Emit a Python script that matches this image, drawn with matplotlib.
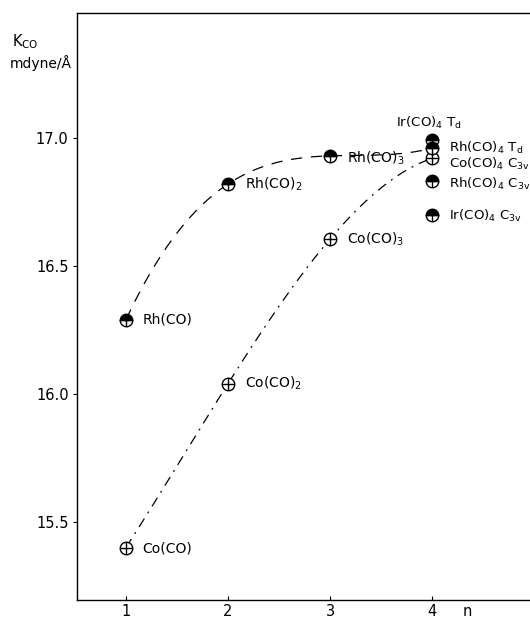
import numpy as np
import matplotlib
matplotlib.use("Agg")
import matplotlib.pyplot as plt

plt.rcParams['font.family'] = ['DejaVu Sans']
plt.rcParams['mathtext.fontset'] = 'dejavusans'

# ---- data ----
rh_n = [1, 2, 3, 4]
rh_k = [16.29, 16.82, 16.93, 16.96]
rh_labels = ["Rh(CO)", "Rh(CO)$_2$", "Rh(CO)$_3$", "Rh(CO)$_4$ T$_\\mathrm{d}$"]

co_n = [1, 2, 3, 4]
co_k = [15.40, 16.04, 16.605, 16.92]
co_labels = ["Co(CO)", "Co(CO)$_2$", "Co(CO)$_3$", "Co(CO)$_4$ C$_\\mathrm{3v}$"]

extra_n = [4, 4, 4]
extra_k = [16.99, 16.83, 16.70]
extra_labels = ["Ir(CO)$_4$ T$_\\mathrm{d}$", "Rh(CO)$_4$ C$_\\mathrm{3v}$", "Ir(CO)$_4$ C$_\\mathrm{3v}$"]

xticks = [1, 2, 3, 4]
yticks = [15.5, 16.0, 16.5, 17.0]
ytick_labels = ["15.5", "16.0", "16.5", "17.0"]

W, H = 530, 618
fig = plt.figure(figsize=(W / 100, H / 100), dpi=100)
ax = fig.add_axes([77 / W, 1 - 600 / H, (W - 77) / W, (600 - 13) / H])
ax.set_xlim(0.52, 4.96)
ax.set_ylim(15.195, 17.488)
ax.spines['right'].set_visible(False)
for s in ['left', 'bottom', 'top']:
    ax.spines[s].set_linewidth(1.0)

ax.set_xticks(xticks)
ax.set_xticklabels([str(t) for t in xticks], fontsize=10.5)
ax.set_yticks(yticks)
ax.set_yticklabels(ytick_labels, fontsize=10.5)
ax.tick_params(axis='x', direction='in', length=3, pad=3)
ax.tick_params(axis='y', direction='out', length=3, pad=3)

# smooth curves through points
def smooth(xs, ys):
    c = np.polyfit(xs, ys, 3)
    xx = np.linspace(min(xs), max(xs), 200)
    return xx, np.polyval(c, xx)

xx, yy = smooth(rh_n, rh_k)
ax.plot(xx, yy, color='black', lw=0.9, linestyle=(0, (9, 7)), zorder=1)
xx, yy = smooth(co_n, co_k)
ax.plot(xx, yy, color='black', lw=0.9, linestyle=(0, (8, 5, 1.5, 5)), zorder=1)

ms = 9
def half_marker(x, y):
    ax.plot(x, y, 'o', ms=ms, fillstyle='top', mfc='black', mfcalt='white',
            mec='black', mew=1.0, zorder=3, linestyle='none')
    ax.plot(x, y, '+', ms=ms, mec='black', mew=1.0, zorder=4, linestyle='none')

def open_marker(x, y):
    ax.plot(x, y, 'o', ms=ms, mfc='white', mec='black', mew=1.0, zorder=3, linestyle='none')
    ax.plot(x, y, '+', ms=ms, mec='black', mew=1.0, zorder=4, linestyle='none')

open_marker(co_n, co_k)
half_marker(extra_n, extra_k)
half_marker(rh_n, rh_k)

fs = 10
fs4 = 9.6
# Rh labels
rh_off = [(12, 0), (12, 0), (12, -2), (12, 0)]
rh_fs = [fs, fs, fs, fs4]
for x, y, t, o, f in zip(rh_n, rh_k, rh_labels, rh_off, rh_fs):
    ax.annotate(t, (x, y), xytext=o, textcoords='offset points', va='center', ha='left', fontsize=f)
co_off = [(12, -1), (12, 0), (12, 0), (12, -4)]
co_fs = [fs, fs, fs, fs4]
for x, y, t, o, f in zip(co_n, co_k, co_labels, co_off, co_fs):
    ax.annotate(t, (x, y), xytext=o, textcoords='offset points', va='center', ha='left', fontsize=f)
# Ir Td above marker
ax.annotate(extra_labels[0], (extra_n[0], extra_k[0]), xytext=(-2, 7), textcoords='offset points',
            va='bottom', ha='center', fontsize=fs4)
ax.annotate(extra_labels[1], (extra_n[1], extra_k[1]), xytext=(12, -2), textcoords='offset points',
            va='center', ha='left', fontsize=fs4)
ax.annotate(extra_labels[2], (extra_n[2], extra_k[2]), xytext=(12, -1), textcoords='offset points',
            va='center', ha='left', fontsize=fs4)

# axis labels
ax.annotate("n", (4.35, 15.195), xytext=(0, -3), textcoords='offset points',
            va='top', ha='center', fontsize=10.5)
fig.text(12 / W, 1 - 42 / H, "K$_\\mathrm{CO}$", fontsize=10.5, ha='left', va='center')
fig.text(10 / W, 1 - 63 / H, "mdyne/Å", fontsize=10, ha='left', va='center')

fig.savefig("out.png", dpi=100)
